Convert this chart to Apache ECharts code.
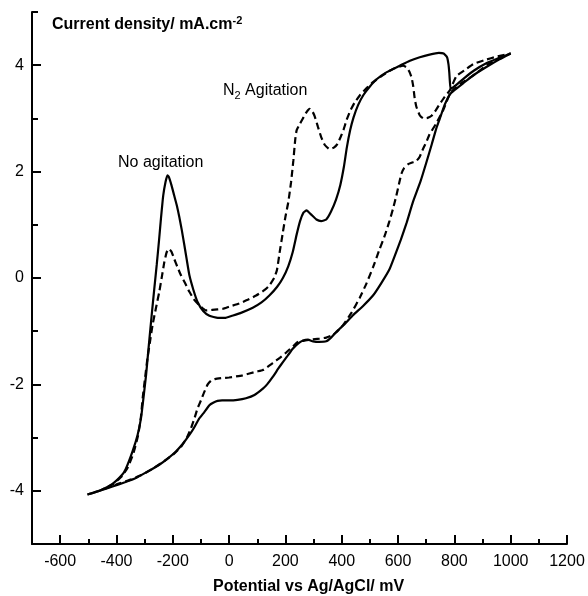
<!DOCTYPE html>
<html>
<head>
<meta charset="utf-8">
<script src="https://cdn.jsdelivr.net/npm/echarts@6/dist/echarts.min.js"></script>
<style>html,body{margin:0;padding:0;background:#fff}#c{width:588px;height:596px}</style>
</head>
<body>
<div id="c"></div>
<script>
// Potential (mV) / current density (mA.cm-2) pairs, traced in scan order
const noAgitationPotential = [-503,-460,-414,-380,-367,-343,-325,-313,-303,-295,-284,-275,-266,-257,-249,-242,-234,-226,-219,-214,-205,-195,-185,-177,-168,-159,-150,-141,-127,-112,-92,-70,-40,-15,10,40,84,115,143,170,191,210,226,240,252,264,275,290,310,327,345,362,380,395,408,418,430,442,458,477,500,525,560,606,640,677,712,745,762,774,779,782,784,787,800,831,870,915,960,1000,960,915,870,831,800,784,765,748,737,720,701,680,653,630,610,590,570,540,511,475,440,410,381,362,345,320,298,280,265,248,226,208,191,175,155,135,120,90,60,30,0,-25,-41,-55,-70,-88,-106,-125,-141,-165,-189,-215,-248,-290,-331,-370,-414,-460,-503];
const noAgitationCurrent = [-4.07,-4.0,-3.87,-3.7,-3.59,-3.26,-2.95,-2.64,-2.2,-1.83,-1.2,-0.7,-0.22,0.25,0.7,1.12,1.55,1.8,1.93,1.9,1.75,1.55,1.35,1.15,0.9,0.62,0.33,0.05,-0.22,-0.45,-0.62,-0.71,-0.75,-0.75,-0.71,-0.66,-0.56,-0.46,-0.33,-0.17,0.0,0.22,0.49,0.82,1.07,1.23,1.27,1.2,1.1,1.07,1.1,1.25,1.48,1.75,2.1,2.45,2.78,3.02,3.25,3.44,3.6,3.74,3.87,3.99,4.08,4.15,4.2,4.23,4.22,4.15,4.02,3.86,3.7,3.56,3.6,3.74,3.9,4.04,4.14,4.22,4.11,3.97,3.82,3.66,3.53,3.45,3.25,2.99,2.83,2.52,2.18,1.82,1.43,1.03,0.72,0.44,0.17,-0.1,-0.33,-0.53,-0.7,-0.87,-1.01,-1.12,-1.19,-1.2,-1.19,-1.16,-1.17,-1.22,-1.33,-1.46,-1.58,-1.7,-1.86,-2.0,-2.08,-2.2,-2.26,-2.29,-2.3,-2.3,-2.31,-2.34,-2.39,-2.52,-2.64,-2.82,-2.95,-3.12,-3.26,-3.38,-3.51,-3.64,-3.76,-3.84,-3.92,-4.0,-4.07];

const n2AgitationPotential = [-503,-460,-414,-380,-360,-340,-323,-313,-307,-299,-290,-281,-272,-260,-248,-238,-230,-222,-214,-205,-195,-183,-171,-156,-141,-125,-106,-82,-60,-23,0,36,66,96,125,143,160,170,180,191,200,210,220,228,235,240,252,262,275,286,296,304,315,327,340,357,372,385,396,406,418,430,446,464,490,511,545,582,618,630,640,648,654,659,665,677,690,705,719,735,748,765,784,808,835,867,910,950,1000,960,920,890,860,830,800,784,760,735,712,700,689,677,665,650,636,622,612,603,594,582,570,553,535,511,488,464,435,404,385,369,345,321,290,265,250,228,203,180,155,120,96,48,0,-23,-50,-64,-76,-88,-100,-112,-122,-135,-150,-170,-195,-230,-270,-310,-350,-400,-450,-503];
const n2AgitationCurrent = [-4.07,-4.0,-3.88,-3.72,-3.56,-3.3,-2.95,-2.6,-2.26,-1.9,-1.51,-1.2,-0.89,-0.57,-0.26,0.05,0.3,0.48,0.55,0.5,0.36,0.2,0.05,-0.1,-0.26,-0.4,-0.51,-0.61,-0.6,-0.58,-0.54,-0.48,-0.41,-0.33,-0.23,-0.14,0.0,0.15,0.5,0.86,1.15,1.42,1.8,2.2,2.61,2.78,2.9,3.0,3.12,3.18,3.13,3.04,2.85,2.65,2.5,2.42,2.45,2.52,2.65,2.78,2.98,3.14,3.3,3.43,3.58,3.68,3.81,3.93,3.99,3.96,3.88,3.77,3.6,3.38,3.22,3.06,3.0,3.01,3.05,3.16,3.27,3.4,3.53,3.8,3.9,4.02,4.1,4.16,4.22,4.13,4.02,3.9,3.78,3.68,3.56,3.46,3.15,2.9,2.7,2.55,2.43,2.28,2.2,2.17,2.14,2.07,1.96,1.76,1.55,1.3,1.08,0.8,0.55,0.2,-0.1,-0.37,-0.65,-0.89,-1.0,-1.07,-1.12,-1.14,-1.16,-1.18,-1.18,-1.28,-1.4,-1.5,-1.6,-1.73,-1.76,-1.83,-1.87,-1.88,-1.9,-1.93,-2.0,-2.14,-2.3,-2.45,-2.62,-2.82,-3.0,-3.17,-3.3,-3.44,-3.58,-3.7,-3.79,-3.88,-3.98,-4.07];

const xMajorTicks = [-600,-400,-200,0,200,400,600,800,1000,1200];
const xMinorTicks = [-500,-300,-100,100,300,500,700,900,1100];
const yMajorTicks = [-4,-2,0,2,4];
const yMinorTicks = [-3,-1,1,3,5];

const zip = (a, b) => a.map((v, i) => [v, b[i]]);
const FONT = 'Liberation Sans, Arial, sans-serif';
const gridRect = {left: 32, right: 21, top: 12, bottom: 52};
const plain = v => String(v);

const chart = echarts.init(document.getElementById('c'), null, {renderer: 'canvas'});
chart.setOption({
  animation: false,
  backgroundColor: '#fff',
  grid: [Object.assign({}, gridRect), Object.assign({}, gridRect)],
  xAxis: [
    {type: 'value', gridIndex: 0, min: -700, max: 1200, position: 'bottom',
     axisLine: {show: true, onZero: false, lineStyle: {color: '#000', width: 2}},
     axisTick: {show: true, inside: true, length: 9, customValues: xMajorTicks, lineStyle: {color: '#000', width: 2}},
     axisLabel: {show: true, customValues: xMajorTicks, formatter: plain, fontSize: 16, color: '#000', fontFamily: FONT, margin: 10},
     splitLine: {show: false}},
    {type: 'value', gridIndex: 1, min: -700, max: 1200, position: 'bottom',
     axisLine: {show: false, onZero: false},
     axisTick: {show: true, inside: true, length: 5, customValues: xMinorTicks, lineStyle: {color: '#000', width: 2}},
     axisLabel: {show: false}, splitLine: {show: false}}
  ],
  yAxis: [
    {type: 'value', gridIndex: 0, min: -5, max: 5, position: 'left',
     axisLine: {show: true, onZero: false, lineStyle: {color: '#000', width: 2}},
     axisTick: {show: true, inside: true, length: 9, customValues: yMajorTicks, lineStyle: {color: '#000', width: 2}},
     axisLabel: {show: true, customValues: yMajorTicks, formatter: plain, fontSize: 16, color: '#000', fontFamily: FONT, margin: 8},
     splitLine: {show: false}},
    {type: 'value', gridIndex: 1, min: -5, max: 5, position: 'left',
     axisLine: {show: false, onZero: false},
     axisTick: {show: true, inside: true, length: 6, customValues: yMinorTicks, lineStyle: {color: '#000', width: 2}},
     axisLabel: {show: false}, splitLine: {show: false}}
  ],
  series: [
    {type: 'line', name: 'No agitation', xAxisIndex: 0, yAxisIndex: 0,
     data: zip(noAgitationPotential, noAgitationCurrent),
     showSymbol: false, smooth: 0.15, lineStyle: {color: '#000', width: 2.2, type: 'solid'}},
    {type: 'line', name: 'N2 Agitation', xAxisIndex: 0, yAxisIndex: 0,
     data: zip(n2AgitationPotential, n2AgitationCurrent),
     showSymbol: false, smooth: 0.15, lineStyle: {color: '#000', width: 2.2, type: [7, 4]}}
  ],
  graphic: [
    {type: 'text', x: 52, y: 25, style: {
      text: '{a|Current density/ mA.cm}{s|-2}',
      verticalAlign: 'middle', align: 'left',
      rich: {
        a: {fontSize: 16, fontWeight: 'bold', fontFamily: FONT, fill: '#000', lineHeight: 20},
        s: {fontSize: 11, fontWeight: 'bold', fontFamily: FONT, fill: '#000', verticalAlign: 'top', lineHeight: 20, padding: [0, 0, 8, 0]}
      }}},
    {type: 'text', x: 213, y: 587, style: {
      text: 'Potential vs Ag/AgCl/ mV', fontSize: 16, fontWeight: 'bold', fontFamily: FONT,
      fill: '#000', verticalAlign: 'middle', align: 'left'}},
    {type: 'text', x: 118, y: 163, style: {
      text: 'No agitation', fontSize: 16, fontFamily: FONT, fill: '#000', verticalAlign: 'middle', align: 'left'}},
    {type: 'text', x: 223, y: 91, style: {
      text: '{a|N}{s|2}{a| Agitation}',
      verticalAlign: 'middle', align: 'left',
      rich: {
        a: {fontSize: 16, fontFamily: FONT, fill: '#000', lineHeight: 20},
        s: {fontSize: 11, fontFamily: FONT, fill: '#000', verticalAlign: 'bottom', lineHeight: 20, padding: [8, 0, 0, 0]}
      }}}
  ]
});
</script>
</body>
</html>
